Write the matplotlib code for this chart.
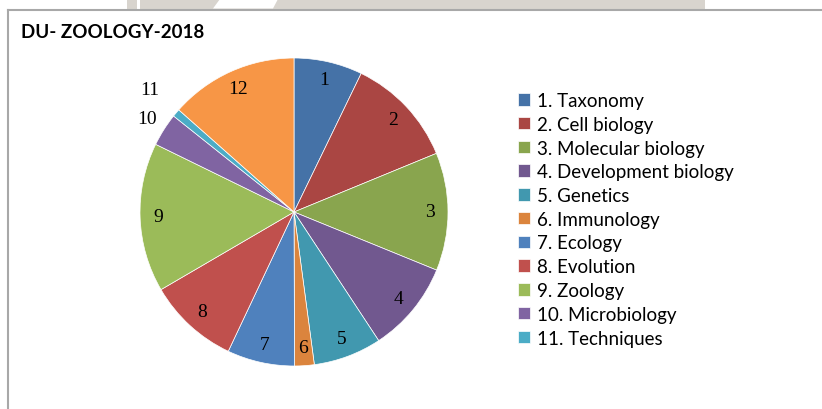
import matplotlib.pyplot as plt
import matplotlib.patches as mpatches
import numpy as np

# slice sizes (degrees of the circle)
labels = ['1. Taxonomy', '2. Cell biology', '3. Molecular biology',
          '4. Development biology', '5. Genetics', '6. Immunology',
          '7. Ecology', '8. Evolution', '9. Zoology', '10. Microbiology',
          '11. Techniques', '12. Others']
numbers = ['1', '2', '3', '4', '5', '6', '7', '8', '9', '10', '11', '12']
values = [25.9, 41.8, 44.6, 34.5, 25.8, 7.4, 25.5, 34.5, 56.4, 12.5, 3.0, 48.5]
colors = ['#4572A7', '#AA4643', '#89A54E', '#71588F', '#4198AF', '#DB843D',
          '#4F81BD', '#C0504D', '#9BBB59', '#8064A2', '#4BACC6', '#F79646']

W, H = 822, 410
fig = plt.figure(figsize=(W / 100, H / 100), dpi=100)

# header strip / frame
bg = fig.add_axes([0, 0, 1, 1])
bg.set_xlim(0, W)
bg.set_ylim(H, 0)
bg.axis('off')
bg.add_patch(mpatches.Rectangle((127, 0), 578, 9.5, color='#d8d4ce', lw=0))
bg.add_patch(mpatches.Rectangle((137, 0), 3, 9.5, color='white', lw=0))
bg.add_patch(mpatches.Polygon([(220, 0), (278, 0), (273, 9.5), (213, 9.5)], color='white', lw=0))
bg.plot([7.5, W], [10.5, 10.5], color='#a8a8a8', lw=1.5)
bg.plot([7.5, 7.5], [10.5, H], color='#a8a8a8', lw=1.5)
bg.text(21, 32, 'DU- ZOOLOGY-2018', fontsize=13.5, fontweight='bold',
        family='Lato', va='center', ha='left')

# pie
cx, cy, r = 294, 213, 154
ax = fig.add_axes([(cx - r) / W, (H - cy - r) / H, 2 * r / W, 2 * r / H])
wedges, texts = ax.pie(values, colors=colors, labels=numbers, startangle=90,
                       counterclock=False, labeldistance=0.88,
                       wedgeprops=dict(edgecolor='white', linewidth=0.5),
                       textprops=dict(family='Liberation Serif', fontsize=14))
for t in texts:
    t.set_ha('center')
    t.set_va('center')

# small slices labelled outside
ang = np.cumsum([0] + values)
for i, dist in [(9, 1.13), (10, 1.23)]:
    a = np.deg2rad(90 - (ang[i] + ang[i + 1]) / 2)
    texts[i].set_position((dist * np.cos(a), dist * np.sin(a)))
ax.set_xlim(-1, 1)
ax.set_ylim(-1, 1)

leg = ax.legend(wedges[:11], labels[:11], loc='upper left',
                bbox_to_anchor=((518 - (cx - r)) / (2 * r), 1 - (93 - (cy - r)) / (2 * r)),
                frameon=False, prop=dict(family='Lato', size=13.5),
                handlelength=0.65, handleheight=0.65, handletextpad=0.35,
                labelspacing=0.36, borderaxespad=0, borderpad=0)

fig.savefig('out.png', dpi=100)
